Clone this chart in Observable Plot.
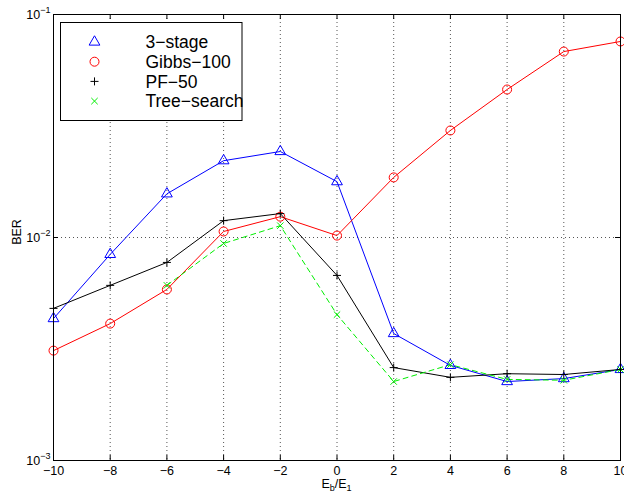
<!DOCTYPE html>
<html><head><meta charset="utf-8">
<script src="https://cdn.jsdelivr.net/npm/d3@7"></script>
<script src="https://cdn.jsdelivr.net/npm/@observablehq/plot@0.6"></script>
<style>
body{margin:0;background:#fff;}
svg{font-family:"Liberation Sans",Arial,Helvetica,sans-serif;}
</style>
</head><body><div id="chart"></div>
<script>
// ---- data ----
const ebe1 = [-10, -8, -6, -4, -2, 0, 2, 4, 6, 8, 10];
const stage3 = [0.00433, 0.0084, 0.0157, 0.0221, 0.0243, 0.0178, 0.00371, 0.00267, 0.00226, 0.00233, 0.00256];
const gibbs100 = [0.00311, 0.00411, 0.00585, 0.01064, 0.0124, 0.0102, 0.0186, 0.0302, 0.0461, 0.0682, 0.0757];
const pf50 = [0.00481, 0.0061, 0.00773, 0.0119, 0.0128, 0.00676, 0.00261, 0.00236, 0.00245, 0.00243, 0.00256];
const treeX = [-6, -4, -2, 0, 2, 4, 6, 8, 10];
const treeSearch = [0.0061, 0.0094, 0.0113, 0.00451, 0.00226, 0.00269, 0.00231, 0.00229, 0.00256];
const seriesNames = ["3\u2212stage", "Gibbs\u2212100", "PF\u221250", "Tree\u2212search"];
const xTicks = [-10, -8, -6, -4, -2, 0, 2, 4, 6, 8, 10];
const yTicks = [1e-3, 1e-2, 1e-1];
const yGrid = [1e-2];

const rows3 = ebe1.map((x, i) => ({x, y: stage3[i]}));
const rowsG = ebe1.map((x, i) => ({x, y: gibbs100[i]}));
const rowsP = ebe1.map((x, i) => ({x, y: pf50[i]}));
const rowsT = treeX.map((x, i) => ({x, y: treeSearch[i]}));

const W = 624, H = 500, mL = 53, mR = 4, mT = 14, mB = 40;
const innerH = H - mT - mB, innerW = W - mL - mR;
const green = "#00ee00";
const rTri = 4, rCirc = 4.5, rPlus = 2.7, rTimes = 3;

const chart = Plot.plot({
  width: W, height: H,
  marginLeft: mL, marginRight: mR, marginTop: mT, marginBottom: mB,
  x: {domain: [-10, 10]},
  y: {type: "log", domain: [1e-3, 1e-1]},
  style: {fontFamily: '"Liberation Sans",Arial,sans-serif', fontSize: "12.5px", background: "white", color: "black"},
  marks: [
    Plot.ruleX(xTicks.slice(1, -1), {x: d => d, stroke: "#555", strokeDasharray: "1,3"}),
    Plot.ruleY(yGrid, {y: d => d, stroke: "#555", strokeDasharray: "1,3"}),
    Plot.line(rows3, {x: "x", y: "y", stroke: "#0000ff", strokeWidth: 1}),
    Plot.line(rowsG, {x: "x", y: "y", stroke: "#ff0000", strokeWidth: 1}),
    Plot.line(rowsP, {x: "x", y: "y", stroke: "#000000", strokeWidth: 1}),
    Plot.line(rowsT, {x: "x", y: "y", stroke: green, strokeWidth: 1, strokeDasharray: "5,4"}),
    Plot.dot(rows3, {x: "x", y: "y", symbol: "triangle", r: rTri, stroke: "#0000ff", fill: "none", strokeWidth: 1}),
    Plot.dot(rowsG, {x: "x", y: "y", symbol: "circle", r: rCirc, stroke: "#ff0000", fill: "none", strokeWidth: 1}),
    Plot.dot(rowsP, {x: "x", y: "y", symbol: "plus", r: rPlus, stroke: "#000000", fill: "none", strokeWidth: 1}),
    Plot.dot(rowsT, {x: "x", y: "y", symbol: "times", r: rTimes, stroke: green, fill: "none", strokeWidth: 1}),
    Plot.frame({stroke: "black", strokeWidth: 1}),
    Plot.tickX(xTicks, {x: d => d, insetTop: innerH - 5, stroke: "black"}),
    Plot.tickX(xTicks, {x: d => d, insetBottom: innerH - 5, stroke: "black"}),
    Plot.tickY(yTicks, {y: d => d, insetRight: innerW - 5, stroke: "black"}),
    Plot.tickY(yTicks, {y: d => d, insetLeft: innerW - 5, stroke: "black"}),
    Plot.axisX(xTicks, {tickSize: 0, tickPadding: 6, label: null, fontSize: 12.5}),
    Plot.axisY(yTicks, {tickSize: 0, tickPadding: 3, label: null, fontSize: 12.5,
      tickFormat: d => String(Math.round(Math.log10(d))).replace("-", "\u2212")})
  ]
});
document.getElementById("chart").appendChild(chart);

const svg = d3.select(chart);
// superscript y tick labels: 10^n
svg.selectAll('g[aria-label="y-axis tick label"] text').each(function () {
  const t = d3.select(this);
  const exp = t.text();
  t.text("10");
  t.append("tspan").attr("dy", "-6").attr("font-size", "9").text(exp);
});

// axis titles
const xl = svg.append("text").attr("x", mL + innerW / 2).attr("y", 488)
  .attr("text-anchor", "middle").attr("font-size", 12.5).attr("fill", "black");
xl.append("tspan").text("E");
xl.append("tspan").attr("dy", 3).attr("font-size", 9).text("b");
xl.append("tspan").attr("dy", -3).text("/E");
xl.append("tspan").attr("dy", 3).attr("font-size", 9).text("1");

svg.append("text").attr("transform", "translate(21,232) rotate(-90)")
  .attr("text-anchor", "middle").attr("font-size", 12.5).attr("fill", "black").text("BER");

// legend
const lg = svg.append("g");
lg.append("rect").attr("x", 60.5).attr("y", 22.5).attr("width", 181.5).attr("height", 98)
  .attr("fill", "white").attr("stroke", "black");
const legendSyms = [
  {sym: d3.symbolTriangle, r: rTri, color: "#0000ff"},
  {sym: d3.symbolCircle, r: rCirc, color: "#ff0000"},
  {sym: d3.symbolPlus, r: rPlus, color: "#000000"},
  {sym: d3.symbolTimes, r: rTimes, color: green}
];
seriesNames.forEach((name, i) => {
  const cy = 42 + i * 19.7;
  const s = legendSyms[i];
  lg.append("path").attr("d", d3.symbol(s.sym, Math.PI * s.r * s.r)())
    .attr("transform", `translate(94.5,${cy})`).attr("fill", "none")
    .attr("stroke", s.color).attr("stroke-width", 1);
  lg.append("text").attr("x", 145.5).attr("y", cy).attr("dy", "0.35em")
    .attr("text-anchor", "start")
    .attr("font-size", 17.5).attr("fill", "black").text(name);
});
</script>
</body></html>
